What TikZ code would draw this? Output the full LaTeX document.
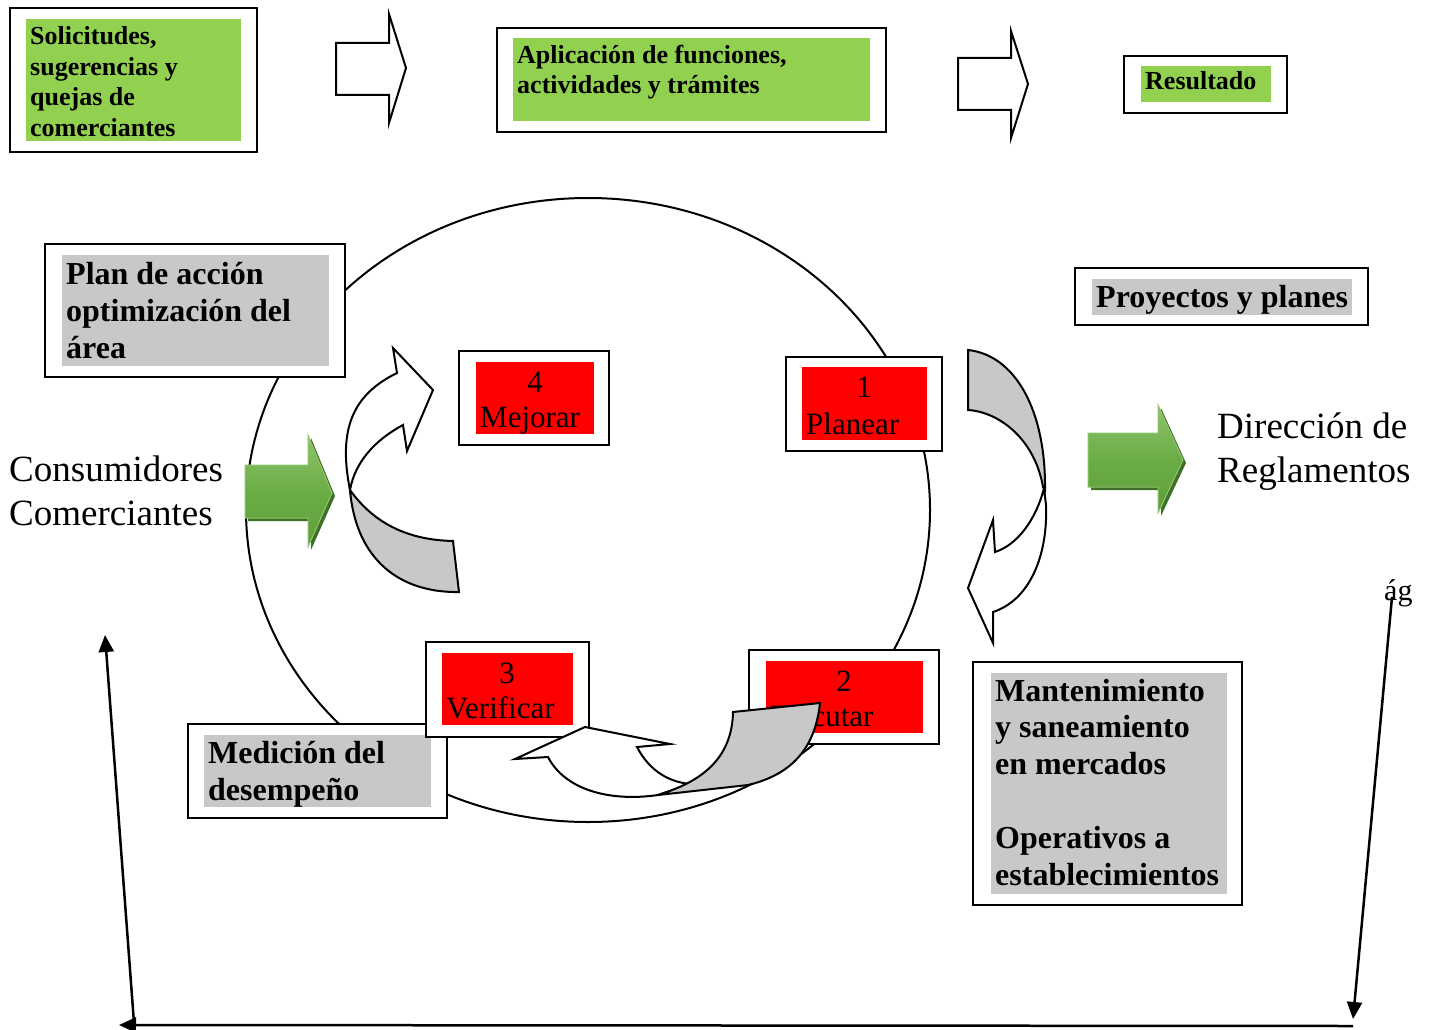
\documentclass[tikz,border=0pt]{standalone}
\usepackage{fontspec}
\setmainfont{Liberation Serif}
\usetikzlibrary{arrows.meta}
\definecolor{boxgreen}{HTML}{92D050}
\definecolor{boxgray}{HTML}{C8C8C8}
\definecolor{arrowlight}{HTML}{8FC46C}
\definecolor{arrowmid}{HTML}{6AAD45}
\definecolor{arrowdark}{HTML}{5E9E3A}
\definecolor{arrowshadow}{HTML}{3F7027}
\tikzset{
	frame/.style={draw=black,line width=2pt,fill=white},
	hollow/.style={draw=black,line width=2pt,fill=white,line join=miter},
	ring/.style={draw=black,line width=2pt},
	foldfront/.style={draw=black,line width=2pt,fill=white},
	foldback/.style={draw=black,line width=2pt,fill=boxgray},
	smalltxt/.style={font=\bfseries\fontsize{26}{30.5}\selectfont,align=left,inner sep=0pt,anchor=base west},
	bigtxt/.style={font=\bfseries\fontsize{32}{36.8}\selectfont,align=left,inner sep=0pt,anchor=base west},
	redtxt/.style={font=\fontsize{31}{35}\selectfont,inner sep=0pt,anchor=base west},
	plaintxt/.style={font=\fontsize{37}{43.5}\selectfont,align=left,inner sep=0pt,anchor=base west},
	greenarrow/.style={top color=arrowlight,bottom color=arrowdark,middle color=arrowmid,draw=arrowlight,line width=1pt},
	shadowarrow/.style={fill=arrowshadow},
	thinarrow/.style={draw=black,line width=2.5pt,-{Triangle[length=17pt,width=15pt]}}
}
\begin{document}
\begin{tikzpicture}[x=1pt,y=-1pt]
	\useasboundingbox (0,0) rectangle (1429,1030);
	
	% ciclo
	\draw[ring] (588,510) ellipse [x radius=342pt,y radius=312pt];
	
	% fila de arriba (textos puestos por la ultima linea)
	\draw[frame] (10,8) rectangle (257,152);
	\fill[boxgreen] (26,19) rectangle (241,141);
	\node[smalltxt] (solicitudes) at (30,136) {Solicitudes,\\sugerencias y\\quejas de\\comerciantes};
	
	\draw[hollow] (336,43) -- (389,43) -- (389,14) -- (406,68) -- (389,123) -- (389,95) -- (336,95) -- cycle;
	
	\draw[frame] (497,28) rectangle (886,132);
	\fill[boxgreen] (513,38) rectangle (870,121);
	\node[smalltxt] (aplicacion) at (517,94) {Aplicación de funciones,\\actividades y trámites};
	
	\draw[hollow] (958,58) -- (1011,58) -- (1011,31) -- (1028,84) -- (1011,138) -- (1011,110) -- (958,110) -- cycle;
	
	\draw[frame] (1124,56) rectangle (1287,113);
	\fill[boxgreen] (1141,66) rectangle (1271,102);
	\node[smalltxt] (resultado) at (1145,90) {Resultado};
	
	% cajas grises
	\draw[frame] (45,244) rectangle (345,377);
	\fill[boxgray] (62,255) rectangle (329,366);
	\node[bigtxt] (plan) at (66,358) {Plan de acción\\optimización del\\área};
	
	\draw[frame] (1075,268) rectangle (1368,325);
	\fill[boxgray] (1092,279) rectangle (1352,315);
	\node[bigtxt] (proyectos) at (1096,307) {Proyectos y planes};
	
	\draw[frame] (188,724) rectangle (447,818);
	\fill[boxgray] (204,735) rectangle (431,807);
	\node[bigtxt] (medicion) at (208,800) {Medición del\\desempeño};
	
	\draw[frame] (973,662) rectangle (1242,905);
	\fill[boxgray] (991,673) rectangle (1227,894);
	\node[bigtxt] (mantenimiento) at (995,885) {Mantenimiento\\y saneamiento\\en mercados\\[36.8pt]Operativos a\\establecimientos};
	
	% pasos del ciclo
	\draw[frame] (459,351) rectangle (609,445);
	\fill[red] (476,362) rectangle (594,434);
	\node[redtxt,anchor=base] (n4) at (535,392) {4};
	\node[redtxt] (mejorar) at (480,427) {Mejorar};
	
	\draw[frame] (786,357) rectangle (942,451);
	\fill[red] (802,367) rectangle (927,440);
	\node[redtxt,anchor=base] (n1) at (864,397) {1};
	\node[redtxt] (planear) at (806,434) {Planear};
	
	\draw[frame] (426,642) rectangle (589,737);
	\fill[red] (442,653) rectangle (573,725);
	\node[redtxt,anchor=base] (n3) at (507,683) {3};
	\node[redtxt] (verificar) at (446,718) {Verificar};
	
	\draw[frame] (749,650) rectangle (939,744);
	\fill[red] (766,661) rectangle (923,733);
	\node[redtxt,anchor=base] (n2) at (844,691) {2};
	\node[redtxt] (ejecutar) at (770,726) {Ejecutar};
	
	% textos sueltos
	\node[plaintxt] (consumidores) at (9,525) {Consumidores\\Comerciantes};
	\node[plaintxt] (direccion) at (1217,482) {Dirección de\\Reglamentos};
	
	% flechas verdes
	\fill[shadowarrow] (248,468) -- (311,468) -- (311,438) -- (335,496) -- (311,550) -- (311,521) -- (248,521) -- cycle;
	\shade[greenarrow] (245,465) -- (308,465) -- (308,435) -- (332,493) -- (308,547) -- (308,518) -- (245,518) -- cycle;
	\fill[shadowarrow] (1091,436) -- (1161,436) -- (1161,408) -- (1186,463) -- (1161,516) -- (1161,490) -- (1091,490) -- cycle;
	\shade[greenarrow] (1088,433) -- (1158,433) -- (1158,405) -- (1183,460) -- (1158,513) -- (1158,487) -- (1088,487) -- cycle;
	
	% flecha curva izquierda
	\draw[foldfront] (350,490) .. controls (338,430) and (352,395) .. (397,373) -- (393,348) -- (433,390) -- (407,451) -- (403,425) .. controls (375,440) and (355,462) .. cycle;
	\draw[foldback] (350,490) .. controls (375,525) and (410,540) .. (453,541) -- (459,592) .. controls (400,593) and (356,560) .. cycle;
	
	% flecha curva derecha
	\draw[foldfront] (1044,488) .. controls (1036,520) and (1017,545) .. (995,552) -- (993,520) -- (968,588) -- (993,643) -- (993,612) .. controls (1030,600) and (1048,555) .. (1046,505) -- cycle;
	\draw[foldback] (968,350) .. controls (1015,355) and (1046,410) .. (1045,490) -- (1043,487) .. controls (1035,440) and (1000,412) .. (968,410) -- cycle;
	
	% flecha curva de abajo
	\draw[foldfront] (548,757) -- (515,759) -- (585,727) -- (670,744) -- (637,747) .. controls (650,772) and (670,782) .. (690,784) -- (658,795) .. controls (610,802) and (565,790) .. cycle;
	\draw[foldback] (733,712) -- (820,703) .. controls (815,750) and (790,775) .. (748,785) -- (658,795) .. controls (700,782) and (732,760) .. cycle;
	
	% flechas finas de abajo
	\coordinate (agtop) at (1392,597);
	\coordinate (rightbot) at (1353,1019);
	\coordinate (lineright) at (1353,1026);
	\coordinate (lineleft) at (119,1025);
	\coordinate (leftbot) at (134,1023);
	\coordinate (lefttop) at (105,635);
	\draw[thinarrow] (agtop) -- (rightbot);
	\draw[thinarrow] (lineright) -- (lineleft);
	\draw[thinarrow] (leftbot) -- (lefttop);
	\node[font=\fontsize{30}{34}\selectfont,inner sep=0pt,anchor=base west] (ag) at (1384,600) {ág};
\end{tikzpicture}
\end{document}
